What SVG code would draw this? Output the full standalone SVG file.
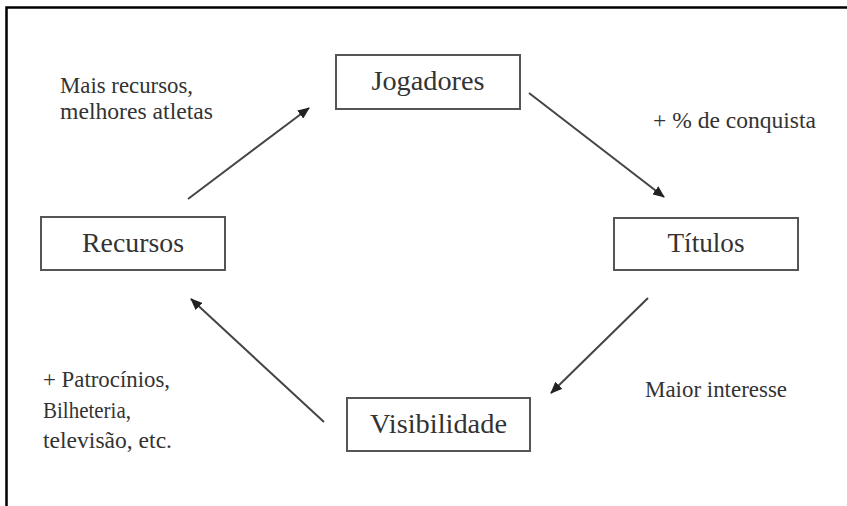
<svg xmlns="http://www.w3.org/2000/svg" width="847" height="506" viewBox="0 0 847 506">
<defs>
<style>
.box{fill:#fff;stroke:#555;stroke-width:2}
.lbl{font-family:'Liberation Serif','Times New Roman',serif;font-size:28px;text-anchor:middle;fill:#333}
.ann{font-family:'Liberation Serif','Times New Roman',serif;font-size:22.5px;fill:#333}
.edge{stroke:#444;stroke-width:2;fill:none;marker-end:url(#ah)}
</style>
<marker id="ah" viewBox="0 0 12 10" refX="11" refY="5" markerWidth="12" markerHeight="10" markerUnits="userSpaceOnUse" orient="auto">
<path d="M0,0 L12,5 L0,10 Z" fill="#222"/>
</marker>
</defs>
<rect width="847" height="506" fill="#fff"/>
<path d="M6.5,506 V7.5 H847" fill="none" stroke="#000" stroke-width="2.5"/>
<g id="connectors">
<line class="edge" x1="188" y1="199" x2="309" y2="108"/>
<line class="edge" x1="529" y1="93" x2="664" y2="197"/>
<line class="edge" x1="648" y1="298" x2="551" y2="393"/>
<line class="edge" x1="324" y1="422" x2="191" y2="299"/>
</g>
<g id="jogadores">
<rect class="box" x="336" y="55" width="184" height="54"/>
<text class="lbl" x="428" y="90" textLength="113" lengthAdjust="spacingAndGlyphs">Jogadores</text>
</g>
<g id="recursos">
<rect class="box" x="41" y="217" width="184" height="53"/>
<text class="lbl" x="133" y="252" textLength="102" lengthAdjust="spacingAndGlyphs">Recursos</text>
</g>
<g id="titulos">
<rect class="box" x="614" y="218" width="184" height="52"/>
<text class="lbl" x="706" y="252" textLength="77" lengthAdjust="spacingAndGlyphs">Títulos</text>
</g>
<g id="visibilidade">
<rect class="box" x="347" y="398" width="183" height="53"/>
<text class="lbl" x="438.5" y="433" textLength="137" lengthAdjust="spacingAndGlyphs">Visibilidade</text>
</g>
<g id="annotations">
<text class="ann" x="60" y="93" textLength="133" lengthAdjust="spacingAndGlyphs">Mais recursos,</text>
<text class="ann" x="60" y="119" textLength="153" lengthAdjust="spacingAndGlyphs">melhores atletas</text>
<text class="ann" x="653" y="128" textLength="163" lengthAdjust="spacingAndGlyphs">+ % de conquista</text>
<text class="ann" x="645" y="397" textLength="142" lengthAdjust="spacingAndGlyphs">Maior interesse</text>
<text class="ann" x="43" y="387" textLength="127" lengthAdjust="spacingAndGlyphs">+ Patrocínios,</text>
<text class="ann" x="43" y="418" textLength="88" lengthAdjust="spacingAndGlyphs">Bilheteria,</text>
<text class="ann" x="43" y="448" textLength="129" lengthAdjust="spacingAndGlyphs">televisão, etc.</text>
</g>
</svg>
